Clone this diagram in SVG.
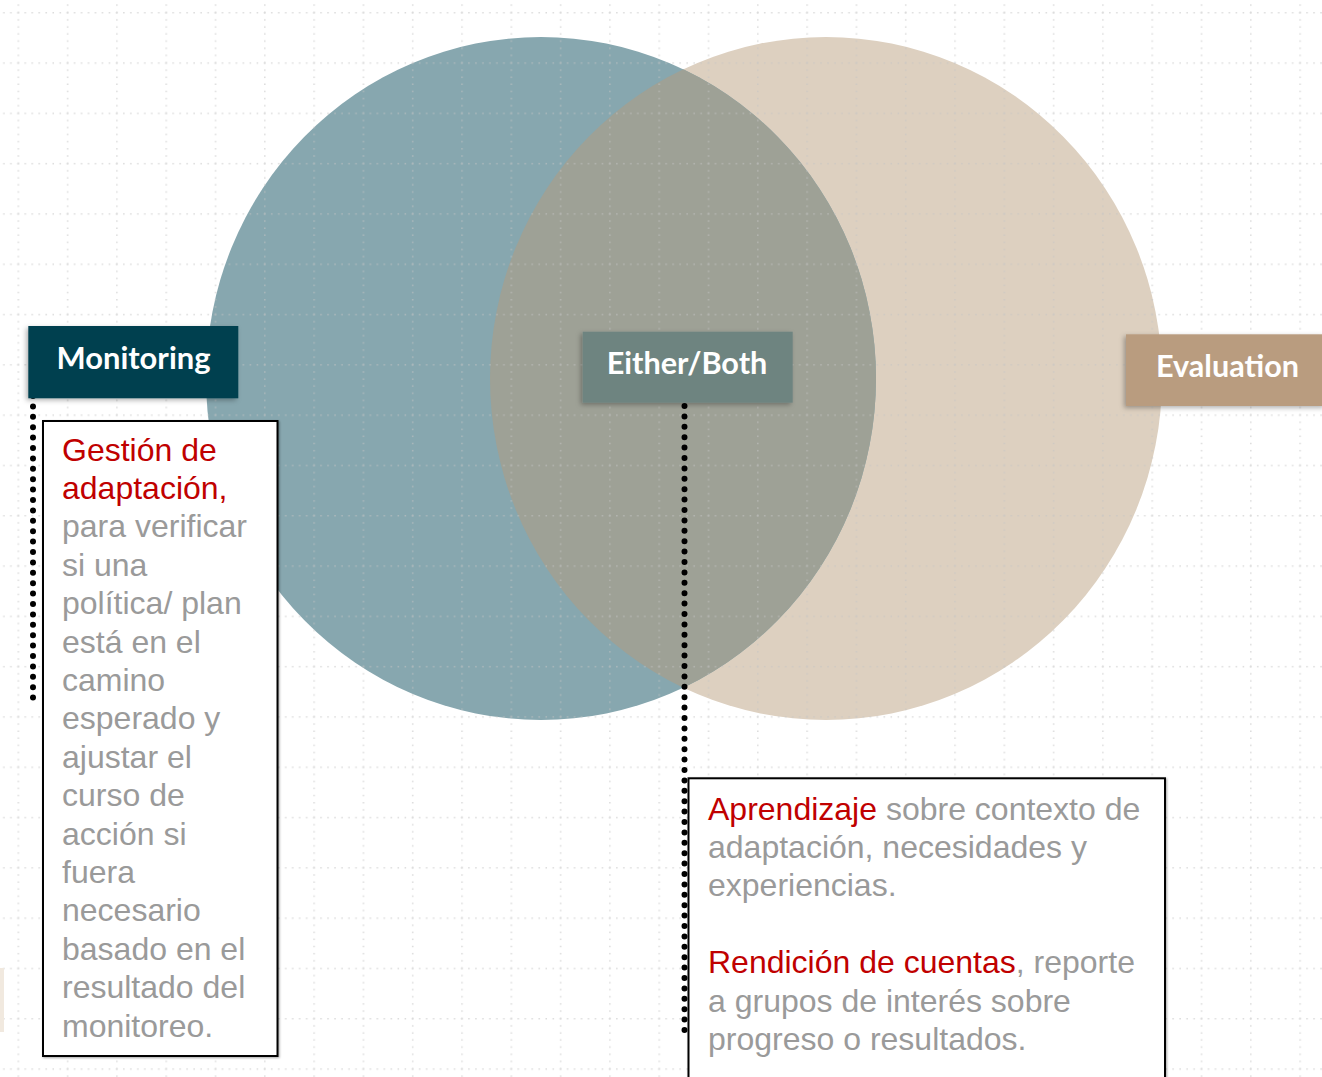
<svg xmlns="http://www.w3.org/2000/svg" width="1322" height="1077" viewBox="0 0 1322 1077">
  <defs>
    <pattern id="grid" patternUnits="userSpaceOnUse" x="17.5" y="12" width="49.3" height="50.3">
      <line x1="0.8" y1="0" x2="0.8" y2="50.3" stroke="#c4c4c4" stroke-width="1.5" stroke-dasharray="1.5 5.6"/>
      <line x1="0" y1="0.8" x2="49.3" y2="0.8" stroke="#c4c4c4" stroke-width="1.5" stroke-dasharray="1.5 5.5"/>
    </pattern>
    <clipPath id="leftClip">
      <ellipse cx="541" cy="378.5" rx="335" ry="341.5"/>
    </clipPath>
    <filter id="shadow" x="-10%" y="-20%" width="120%" height="150%">
      <feDropShadow dx="-2" dy="2" stdDeviation="2.5" flood-color="#000" flood-opacity="0.3"/>
    </filter>
    <filter id="boxshadow" x="-5%" y="-5%" width="110%" height="110%">
      <feDropShadow dx="1" dy="1" stdDeviation="1.2" flood-color="#000" flood-opacity="0.35"/>
    </filter>
  </defs>
  <style>
    .lbl { font-family: "Lato", "Open Sans", "DejaVu Sans", sans-serif; font-weight: 700; fill: #ffffff; }
    .body { font-family: "Liberation Sans", Arial, sans-serif; font-size: 32px; fill: #9a9a9a; }
    .red { fill: #c00000; }
    .dots { fill: none; stroke: #000; stroke-width: 6; stroke-linecap: round; stroke-dasharray: 0 10.4; }
    .tbox { fill: #ffffff; stroke: #000; stroke-width: 2; }
  </style>

  <rect x="0" y="0" width="1322" height="1077" fill="#ffffff"/>

  <g id="circles">
    <ellipse id="evaluation-circle" cx="826" cy="378.5" rx="336" ry="341.5" fill="#ddd0c0"/>
    <ellipse id="monitoring-circle" cx="541" cy="378.5" rx="335" ry="341.5" fill="#87a7af"/>
    <ellipse id="overlap" cx="826" cy="378.5" rx="336" ry="341.5" fill="#9ea196" clip-path="url(#leftClip)"/>
  </g>

  <rect x="0" y="0" width="1322" height="1077" fill="url(#grid)" opacity="0.6"/>
  <rect x="0" y="968" width="4" height="64" fill="#f1e9df"/>

  <g id="connectors">
    <line class="dots" x1="33" y1="396" x2="33" y2="698"/>
    <line class="dots" x1="684.5" y1="406" x2="684.5" y2="1035"/>
  </g>

  <g id="node-monitoring">
    <rect x="28.3" y="326" width="210" height="72.3" fill="#04414f" filter="url(#shadow)"/>
    <text class="lbl" x="133.5" y="368.5" font-size="31" text-anchor="middle" textLength="154" lengthAdjust="spacingAndGlyphs">Monitoring</text>
  </g>

  <g id="node-either-both">
    <rect x="582.7" y="331.7" width="210" height="71" fill="#6e8480" filter="url(#shadow)"/>
    <text class="lbl" x="687" y="374.3" font-size="30" text-anchor="middle" textLength="160.6" lengthAdjust="spacingAndGlyphs">Either/Both</text>
  </g>

  <g id="node-evaluation">
    <rect x="1126" y="334.3" width="200" height="71.7" fill="#b99c7f" filter="url(#shadow)"/>
    <text class="lbl" x="1156" y="376.7" font-size="30" textLength="143" lengthAdjust="spacingAndGlyphs">Evaluation</text>
  </g>

  <g id="node-monitoring-text">
    <rect class="tbox" x="43" y="421" width="234.5" height="635" filter="url(#boxshadow)"/>
    <text class="body" x="62">
      <tspan class="red" x="62" y="460.5">Gestión de</tspan>
      <tspan class="red" x="62" y="498.9">adaptación,</tspan>
      <tspan x="62" y="537.3">para verificar</tspan>
      <tspan x="62" y="575.7">si una</tspan>
      <tspan x="62" y="614.1">política/ plan</tspan>
      <tspan x="62" y="652.5">está en el</tspan>
      <tspan x="62" y="690.9">camino</tspan>
      <tspan x="62" y="729.3">esperado y</tspan>
      <tspan x="62" y="767.7">ajustar el</tspan>
      <tspan x="62" y="806.1">curso de</tspan>
      <tspan x="62" y="844.5">acción si</tspan>
      <tspan x="62" y="882.9">fuera</tspan>
      <tspan x="62" y="921.3">necesario</tspan>
      <tspan x="62" y="959.7">basado en el</tspan>
      <tspan x="62" y="998.1">resultado del</tspan>
      <tspan x="62" y="1036.5">monitoreo.</tspan>
    </text>
  </g>

  <g id="node-either-text">
    <rect class="tbox" x="688.5" y="778.3" width="476.5" height="310" filter="url(#boxshadow)"/>
    <text class="body" x="708">
      <tspan x="708" y="819.5"><tspan class="red">Aprendizaje</tspan> sobre contexto de</tspan>
      <tspan x="708" y="857.9">adaptación, necesidades y</tspan>
      <tspan x="708" y="896.3">experiencias.</tspan>
      <tspan x="708" y="973.1"><tspan class="red">Rendición de cuentas</tspan>, reporte</tspan>
      <tspan x="708" y="1011.5">a grupos de interés sobre</tspan>
      <tspan x="708" y="1049.9">progreso o resultados.</tspan>
    </text>
  </g>
</svg>
